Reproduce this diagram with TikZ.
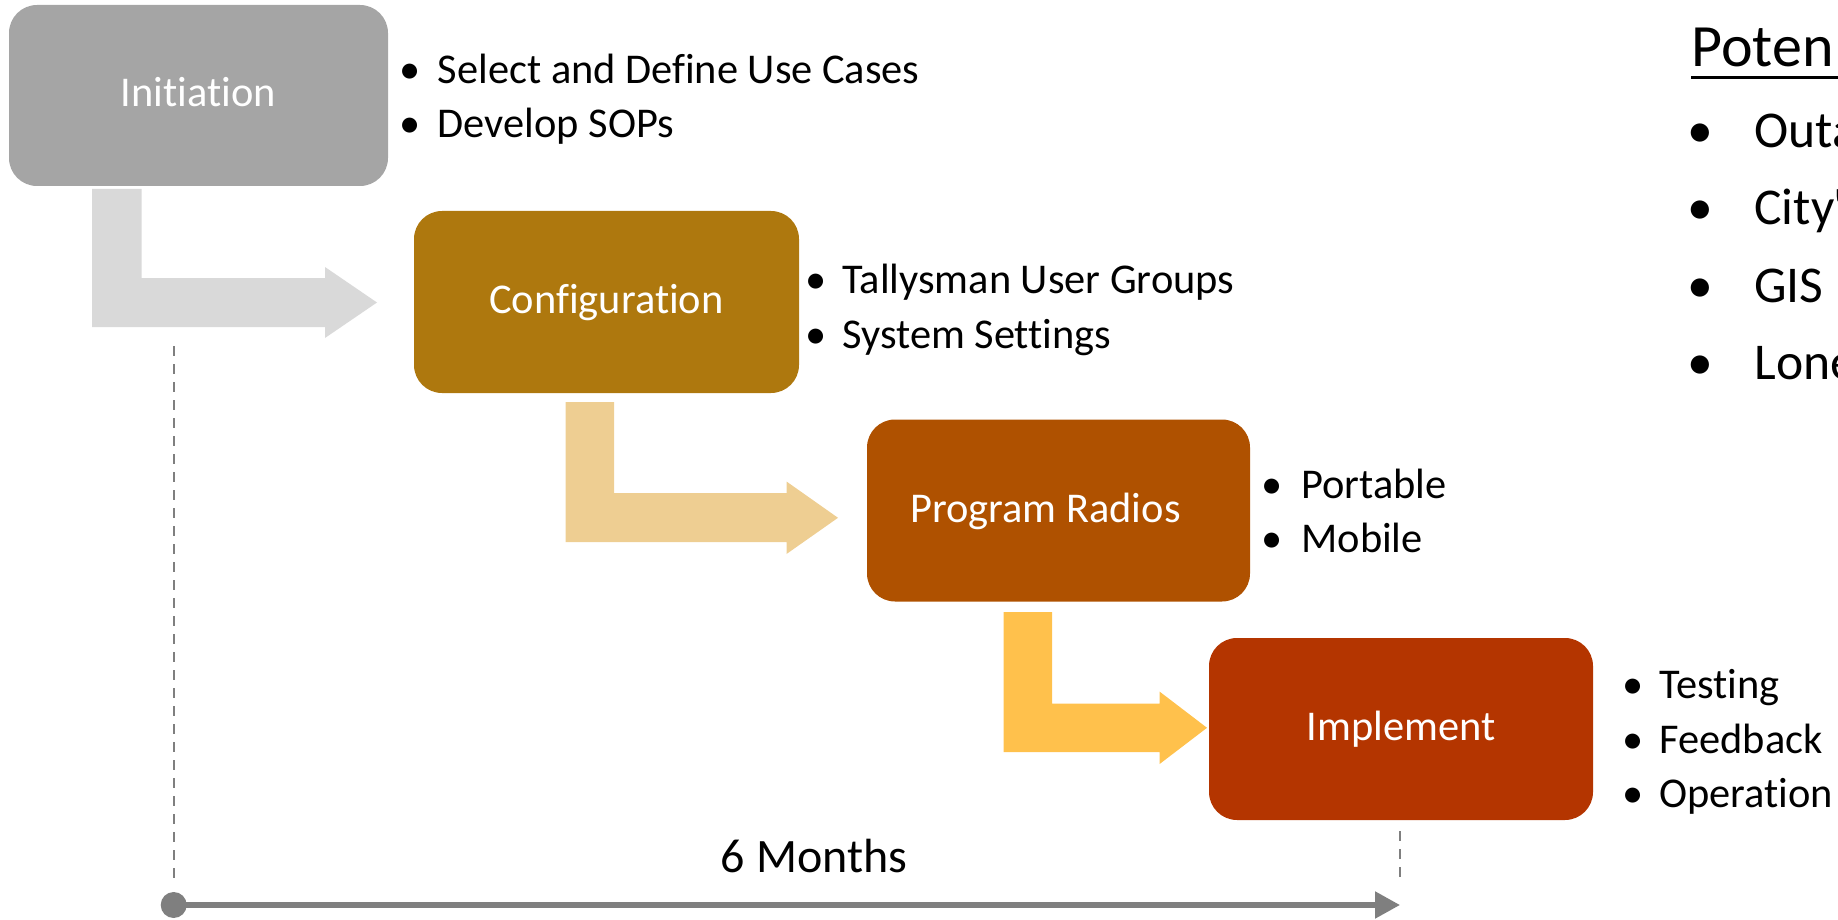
\documentclass[tikz,border=0pt]{standalone}
\usepackage{fontspec}
\setmainfont{Carlito}[Ligatures=NoCommon]
\usetikzlibrary{arrows.meta}

\definecolor{initgray}{HTML}{A5A5A5}
\definecolor{configgold}{HTML}{AE780E}
\definecolor{radiobrown}{HTML}{AF5100}
\definecolor{implred}{HTML}{B43500}
\definecolor{arrowgray}{HTML}{D9D9D9}
\definecolor{arrowtan}{HTML}{EECE92}
\definecolor{arrowyellow}{HTML}{FFC14C}
\definecolor{linegray}{HTML}{7F7F7F}

% one bullet line: name, bullet x, text x, baseline y, text
\newcommand\listline[6][\listfont]{%
  \node[anchor=base, inner sep=0pt, font=#1] (#2b) at (#3,#5) {\textbullet};
  \node[anchor=base west, inner sep=0pt, font=#1] (#2) at (#4,#5) {#6};
}
\newcommand\listfont{\fontsize{21.2pt}{25pt}\selectfont}
\newcommand\sidefont{\fontsize{25.8pt}{30pt}\selectfont}

\begin{document}
\begin{tikzpicture}[x=0.5pt, y=-0.5pt,
  phase/.style={rounded corners=14pt, inner sep=0pt, text=white,
    font=\fontsize{21.2pt}{25pt}\selectfont,
    text height=11.5pt, text depth=0pt,
    minimum width=#1*0.5pt},
  phase/.default=383,
  guide/.style={draw=linegray, line width=1pt, dash pattern=on 5pt off 4pt}]
\useasboundingbox (0,0) rectangle (1838,920);

% phase boxes
\node[phase=379, minimum height=90.5pt, fill=initgray] (init) at (198.5,95.5) {Initiation};
\node[phase=385, minimum height=91pt, fill=configgold] (conf) at (606.5,302) {Configuration};
\node[phase=383, minimum height=91pt, fill=radiobrown] (radio) at (1058.5,510.5) {Program Radios\kern13pt};
\node[phase=384, minimum height=91pt, fill=implred] (impl) at (1401,729) {Implement};

% bent block arrows between the phases
\fill[arrowgray] (92,189) -- (141.5,189) -- (141.5,278) -- (325,278) -- (325,267)
  -- (377,302.5) -- (325,338) -- (325,327) -- (92,327) -- cycle;
\fill[arrowtan] (565.5,402) -- (614,402) -- (614,493) -- (786.5,493) -- (786.5,481.5)
  -- (838,517.8) -- (786.5,554) -- (786.5,542) -- (565.5,542) -- cycle;
\fill[arrowyellow] (1003.5,612) -- (1052,612) -- (1052,703.7) -- (1159.6,703.7) -- (1159.6,691.6)
  -- (1207,727.8) -- (1159.6,764) -- (1159.6,752) -- (1003.5,752) -- cycle;

% bullet lists beside the phases
\listline{i1}{410}{437.5}{83.3}{Select and Define Use Cases}
\listline{i2}{410}{437.5}{138}{Develop SOPs}
\listline{c1}{816}{842}{293}{Tallysman User Groups}
\listline{c2}{816}{842}{348}{System Settings}
\listline{r1}{1272}{1301}{498.8}{Portable}
\listline{r2}{1272}{1301}{552}{Mobile}
\listline{m1}{1632.7}{1659}{698}{Testing}
\listline{m2}{1632.7}{1659}{753}{Feedback}
\listline{m3}{1632.7}{1659}{807}{Operation}

% list on the right
\node[anchor=base west, inner sep=0pt, font=\fontsize{30pt}{35pt}\selectfont] (head) at (1691,66.7) {Poten};
\coordinate (ulA) at (1691,77.3);
\coordinate (ulB) at (1845,77.3);
\draw[line width=1.5pt] (ulA) -- (ulB);
\listline[\sidefont]{p1}{1700.7}{1754}{148}{Outa}
\listline[\sidefont]{p2}{1700.7}{1754}{225}{City\kern-0.5pt\textquotesingle}
\listline[\sidefont]{p3}{1700.7}{1754}{302.7}{GIS}
\listline[\sidefont]{p4}{1700.7}{1754}{379.3}{Lone}

% timeline
\node[circle, fill=linegray, minimum size=13pt, inner sep=0pt] (start) at (173.7,905) {};
\coordinate (finish) at (1400,905);
\draw[draw=linegray, line width=2.6pt, -{Triangle[length=12.5pt, width=13pt]}] (start.center) -- (finish);
\coordinate (dashA) at (173.7,346);
\coordinate (dashB) at (173.7,879);
\coordinate (dashC) at (1400,831);
\coordinate (dashD) at (1400,879);
\draw[guide] (dashA) -- (dashB);
\draw[guide] (dashC) -- (dashD);
\node[anchor=base, inner sep=0pt, font=\fontsize{24pt}{29pt}\selectfont] (months) at (814,872) {6 Months};
\end{tikzpicture}
\end{document}
